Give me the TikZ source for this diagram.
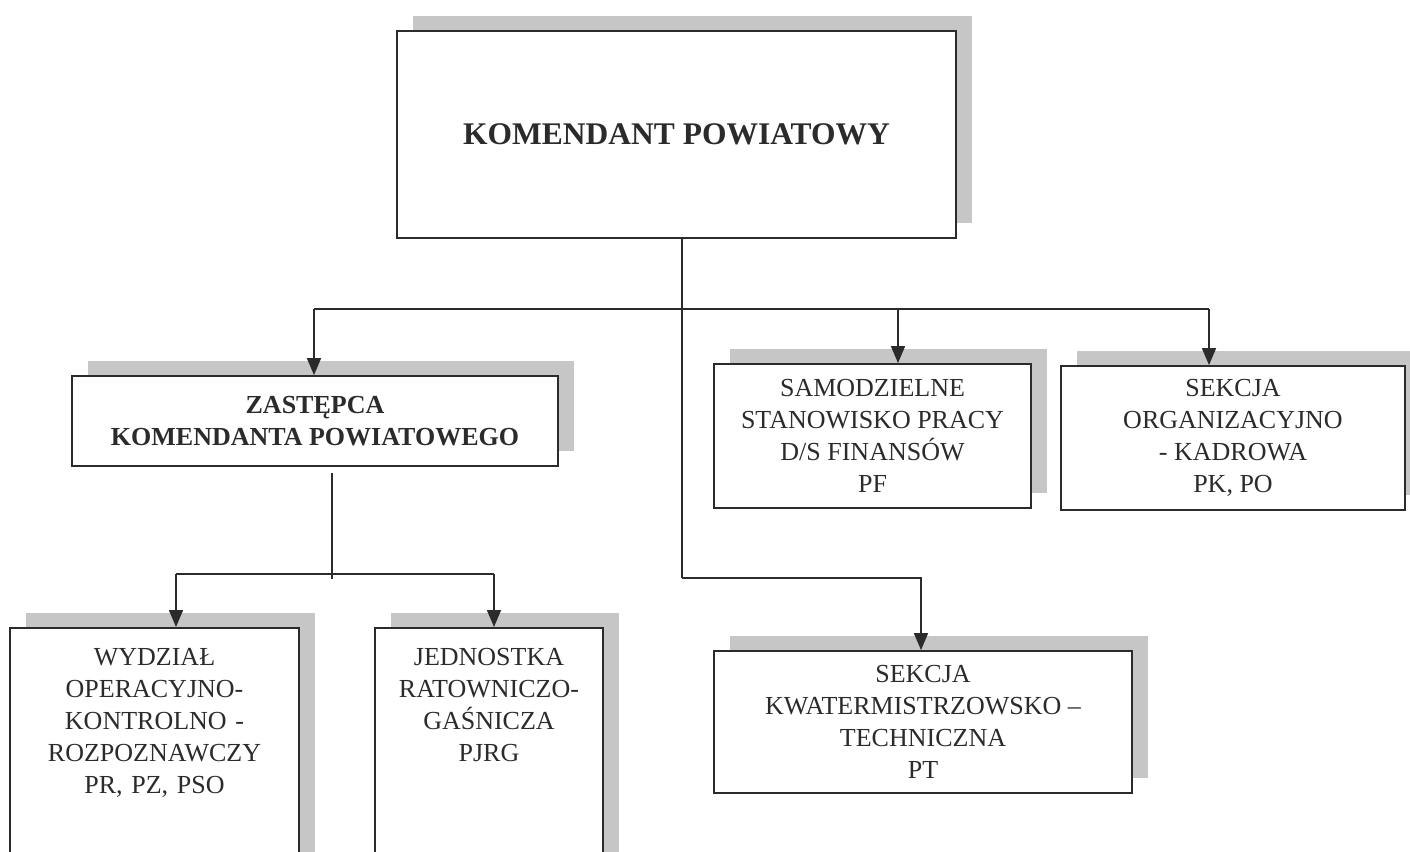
\documentclass[tikz,border=0pt]{standalone}
\usepackage{fontspec}
\setmainfont{Liberation Serif}
\usetikzlibrary{arrows.meta, positioning, shadows, calc}
\definecolor{ink}  {HTML}{2B2B2B}
\definecolor{shade}{HTML}{C6C6C6}
\tikzset{
  box/.style     = {draw=ink, line width=1.8pt, fill=white, text=ink,
                    inner sep=0pt, align=center,
                    font=\fontsize{26}{32}\selectfont,
                    drop shadow={shadow xshift=16pt, shadow yshift=15pt,
                                 fill=shade, opacity=1}},
  boldbox/.style = {box, font=\fontsize{26}{32}\selectfont\bfseries},
  tallbox/.style = {box, anchor=north, text height=38pt, text depth=240pt},
  link/.style    = {draw=ink, line width=1.6pt},
  arr/.style     = {link, -{Triangle[length=17pt, width=14pt]}},
}

\begin{document}
\begin{tikzpicture}[x=1pt, y=-1pt]
  \useasboundingbox (0,0) rectangle (1410,851);
  \clip (0,0) rectangle (1410,851);

  % komendant
  \node[boldbox, font=\fontsize{31.5}{38}\selectfont\bfseries,
        minimum width=559pt, minimum height=207pt]
    (kp) at (676.5,134.5) {KOMENDANT POWIATOWY};

  % zastepca
  \node[boldbox, minimum width=486pt, minimum height=90pt]
    (zast) at (315,421) {ZASTĘPCA\\KOMENDANTA POWIATOWEGO};

  % stanowiska podlegle komendantowi
  \node[box, minimum width=317pt, minimum height=144pt]
    (fin) at (872.5,436) {SAMODZIELNE\\STANOWISKO PRACY\\D/S FINANSÓW\\PF};
  \node[box, minimum width=344pt, minimum height=144pt]
    (kadr) at (1233,438) {SEKCJA\\ORGANIZACYJNO\\- KADROWA\\PK, PO};
  \node[box, minimum width=418pt, minimum height=142pt]
    (kwat) at (923,722) {SEKCJA\\KWATERMISTRZOWSKO --\\TECHNICZNA\\PT};

  % komorki podlegle zastepcy
  \node[tallbox, text width=289pt] (wydz) at (154.5,627)
    {WYDZIAŁ\\OPERACYJNO-\\KONTROLNO -\\ROZPOZNAWCZY\\PR, PZ, PSO};
  \node[tallbox, text width=228pt] (jrg) at (489,627)
    {JEDNOSTKA\\RATOWNICZO-\\GAŚNICZA\\PJRG};

  % junctions
  \coordinate (t1) at (682,578);
  \coordinate (b1) at (314,309);
  \coordinate (b2) at (1209,309);
  \coordinate (d1) at (898,309);
  \coordinate (k1) at (921,578);
  \coordinate (z1) at (332,579);
  \coordinate (h1) at (176,574);
  \coordinate (h2) at (494,574);

  \draw[link] (kp.south -| t1) -- (t1);
  \draw[arr]  (t1) -| (kwat.north -| k1);
  \draw[link] (b1) -- (b2);
  \draw[arr]  (b1) -- (zast.north -| b1);
  \draw[arr]  (d1) -- (fin.north -| d1);
  \draw[arr]  (b2) -- (kadr.north -| b2);

  \draw[link] ($(zast.south -| z1)+(0,6)$) -- (z1);
  \draw[link] (h1) -- (h2);
  \draw[arr]  (h1) -- (wydz.north -| h1);
  \draw[arr]  (h2) -- (jrg.north -| h2);

\end{tikzpicture}
\end{document}
